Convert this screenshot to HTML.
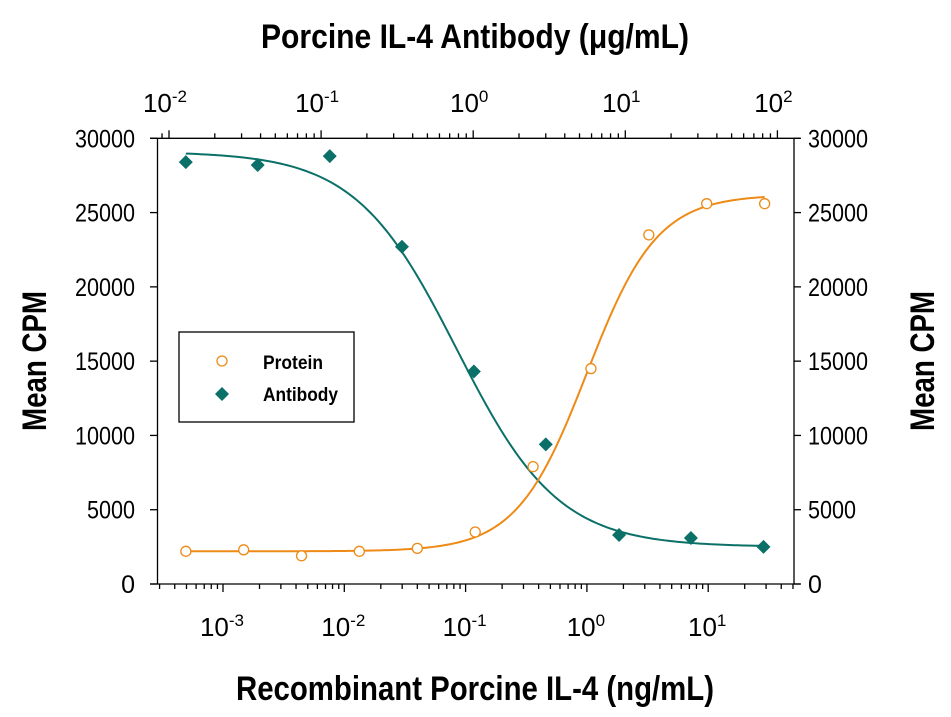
<!DOCTYPE html>
<html><head><meta charset="utf-8"><style>
html,body{margin:0;padding:0;background:#fff;}
svg{display:block;font-family:"Liberation Sans",sans-serif;}
</style></head><body>
<svg id="chart" width="951" height="717" viewBox="0 0 951 717" xmlns="http://www.w3.org/2000/svg">
<g id="axes"></g>
<g id="curves"></g>
<g id="points"></g>
<text x="475" y="48" text-anchor="middle" font-size="34" font-weight="bold" textLength="428" lengthAdjust="spacingAndGlyphs">Porcine IL-4 Antibody (μg/mL)</text>
<text x="475" y="700" text-anchor="middle" font-size="34" font-weight="bold" textLength="478" lengthAdjust="spacingAndGlyphs">Recombinant Porcine IL-4 (ng/mL)</text>
<text transform="translate(46,361) rotate(-90)" text-anchor="middle" font-size="34" font-weight="bold" textLength="140" lengthAdjust="spacingAndGlyphs">Mean CPM</text>
<text transform="translate(934,361) rotate(-90)" text-anchor="middle" font-size="34" font-weight="bold" textLength="140" lengthAdjust="spacingAndGlyphs">Mean CPM</text>
<g>
<rect x="179" y="332" width="175" height="90" fill="#fff" stroke="#000" stroke-width="1.3"/>
<circle cx="222" cy="361" r="5" fill="#fff" stroke="#ee8a16" stroke-width="1.3"/>
<text x="263" y="369" font-size="19" font-weight="bold" textLength="60" lengthAdjust="spacingAndGlyphs">Protein</text>
<path d="M222 387 L229 394 L222 401 L215 394 Z" fill="#0b7068"/>
<text x="263" y="401" font-size="19" font-weight="bold" textLength="75" lengthAdjust="spacingAndGlyphs">Antibody</text>
</g>
</svg>
<script>
// Protein series (bottom axis, ng/mL)
const proteinConc = [0.000494, 0.00148, 0.00444, 0.0133, 0.04, 0.12, 0.36, 1.08, 3.24, 9.72, 29.2];
const proteinCPM = [2200, 2300, 1900, 2200, 2400, 3500, 7900, 14500, 23500, 25600, 25600];
// Antibody series (top axis, ug/mL)
const antibodyConc = [0.0129, 0.0383, 0.114, 0.34, 1.01, 3.0, 9.1, 27, 81];
const antibodyCPM = [28400, 28200, 28800, 22700, 14300, 9400, 3300, 3100, 2500];
// 4PL fit parameters [bottom, top, ec50, hill]
const proteinFit = [2200, 26200, 1.0, 1.5];
const antibodyFit = [2500, 29100, 0.78, 1.3];
const yTicks = [0, 5000, 10000, 15000, 20000, 25000, 30000];
const bottomExps = [-3, -2, -1, 0, 1];
const topExps = [-2, -1, 0, 1, 2];

const NS = "http://www.w3.org/2000/svg";
const L = 157.5, R = 794, T = 138.3, B = 584;
const xB = v => 223 + (Math.log10(v) + 3) * 121.3;
const xT = v => 169 + (Math.log10(v) + 2) * 152.1;
const y = v => B - v / 30000 * (B - T);
function mk(tag, attrs, parent) { const e = document.createElementNS(NS, tag); for (const k in attrs) e.setAttribute(k, attrs[k]); parent.appendChild(e); return e; }
const axes = document.getElementById('axes');
function line(x1, y1, x2, y2, name) {
  const e = mk('line', {x1, y1, x2, y2, stroke: '#000', 'stroke-width': 1.3}, axes);
  
  
}
line(L, T, L, B, 'left-axis'); line(R, T, R, B, 'right-axis');
line(150, B, 800, B, 'bottom-axis'); line(150, T, 800, T, 'top-axis');
yTicks.forEach(v => {
  line(150, y(v), L, y(v), 'y-tick-left'); line(R, y(v), 801, y(v), 'y-tick-right');
  const s = String(v);
  const t1 = mk('text', {x: 135, y: y(v) + 9, 'text-anchor': 'end', 'font-size': 25}, axes);
  
  
  if (s.length > 1) { t1.setAttribute('textLength', s.length * 12); t1.setAttribute('lengthAdjust', 'spacingAndGlyphs'); }
  t1.textContent = s;
  const t2 = mk('text', {x: 808, y: y(v) + 9, 'font-size': 25}, axes);
  
  
  if (s.length > 1) { t2.setAttribute('textLength', s.length * 12); t2.setAttribute('lengthAdjust', 'spacingAndGlyphs'); }
  t2.textContent = s;
});
for (let e = -4; e <= 1; e++) for (let m = 1; m <= 9; m++) {
  const x = xB(m * Math.pow(10, e));
  if (x < L - 0.5 || x > R + 0.5) continue;
  line(x, B, x, B + (m === 1 ? 8 : 5), 'bottom-tick');
}
for (let e = -3; e <= 2; e++) for (let m = 1; m <= 9; m++) {
  const x = xT(m * Math.pow(10, e));
  if (x < L - 0.5 || x > R + 0.5) continue;
  line(x, T, x, T - (m === 1 ? 8 : 5), 'top-tick');
}
function expLabel(x, yy, e, name) {
  const t = mk('text', {x: x, y: yy, 'text-anchor': 'middle', 'font-size': 26}, axes);
  
  
  t.innerHTML = '10<tspan font-size="17" dy="-10">' + e + '</tspan>';
}
bottomExps.forEach(e => expLabel(xB(Math.pow(10, e)) - 1, 636, e, 'bottom-tick-label'));
topExps.forEach(e => expLabel(xT(Math.pow(10, e)) - 4, 112, e, 'top-tick-label'));

const curves = document.getElementById('curves');
function fourPL(p, x) { return p[0] + (p[1] - p[0]) / (1 + Math.pow(x / p[2], p[3])); }
function curve(p, conc, xf, color, name, rising) {
  const lo = Math.log10(conc[0]), hi = Math.log10(conc[conc.length - 1]);
  let d = '';
  for (let i = 0; i <= 200; i++) {
    const c = Math.pow(10, lo + (hi - lo) * i / 200);
    const v = rising ? p[0] + (p[1] - p[0]) / (1 + Math.pow(p[2] / c, p[3])) : fourPL(p, c);
    d += (i ? 'L' : 'M') + xf(c).toFixed(2) + ' ' + y(v).toFixed(2);
  }
  const e = mk('path', {d, fill: 'none', stroke: color, 'stroke-width': 2}, curves);
  
  
}
curve(antibodyFit, antibodyConc, xT, '#0b7068', 'antibody-fit-curve', false);
curve(proteinFit, proteinConc, xB, '#ee8a16', 'protein-fit-curve', true);

const pts = document.getElementById('points');
proteinConc.forEach((c, i) => {
  const e = mk('circle', {cx: xB(c), cy: y(proteinCPM[i]), r: 5, fill: '#fff', stroke: '#ee8a16', 'stroke-width': 1.3}, pts);
  
  
});
antibodyConc.forEach((c, i) => {
  const x = xT(c), yy = y(antibodyCPM[i]);
  const e = mk('path', {d: `M${x} ${yy - 7}L${x + 7} ${yy}L${x} ${yy + 7}L${x - 7} ${yy}Z`, fill: '#0b7068'}, pts);
  
  
});
</script>
</body></html>
